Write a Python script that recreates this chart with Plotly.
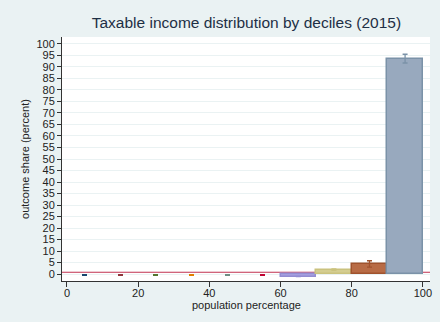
import plotly.graph_objects as go

# Data
decile_centers = [5, 15, 25, 35, 45, 55, 65, 75, 85, 95]
shares = [0.0, 0.0, 0.0, 0.0, 0.0, 0.0, -1.1, 1.9, 4.3, 93.5]
ci_low = [-0.4, -0.4, -0.4, -0.4, -0.4, -0.4, -1.1, 1.6, 3.0, 91.7]
ci_high = [-0.3, -0.3, -0.3, -0.3, -0.3, -0.3, -1.0, 2.3, 5.8, 95.5]
line_colors = ["#1a476f", "#90353b", "#55752f", "#e37e00", "#6e8e84",
               "#c10534", "#938dd2", "#cac27e", "#a0522d", "#7b92a8"]
fill_colors = ["#1a476f", "#90353b", "#55752f", "#e37e00", "#6e8e84",
               "#c10534", "#a49fe0", "#d4cd90", "#b86b45", "#98a9be"]
reference_value = 0.8
y_ticks = list(range(0, 101, 5))
x_ticks = [0, 20, 40, 60, 80, 100]

fig = go.Figure()
for i, (x, y) in enumerate(zip(decile_centers, shares)):
    show_bar = abs(y) > 0.5
    fig.add_trace(go.Bar(
        x=[x], y=[y], width=10,
        marker=dict(color=fill_colors[i] if show_bar else "rgba(0,0,0,0)",
                    line=dict(color=line_colors[i], width=1.5 if show_bar else 0)),
        error_y=dict(type="data", symmetric=False,
                     array=[ci_high[i] - y], arrayminus=[y - ci_low[i]],
                     color=line_colors[i], thickness=1.3, width=2.5),
        showlegend=False, hoverinfo="skip",
    ))

fig.add_hline(y=reference_value, line=dict(color="#c0304f", width=1.2), layer="below")

fig.add_annotation(text="population percentage", xref="paper", yref="paper",
                   x=0.5, y=-0.098, xanchor="center", yanchor="middle",
                   showarrow=False, font=dict(size=11, color="#222222"))

fig.update_layout(
    width=440, height=322,
    paper_bgcolor="#eaf2f3", plot_bgcolor="#ffffff",
    margin=dict(l=62, r=8, t=37, b=41),
    bargap=0,
    font=dict(family="Liberation Sans, Arial, sans-serif", size=11, color="#222222"),
    title=dict(text="Taxable income distribution by deciles (2015)",
               x=0.56, xanchor="center", y=0.93, yanchor="middle",
               font=dict(size=15.5, color="#1e2f45")),
    xaxis=dict(range=[-1.4, 102], tickvals=x_ticks, ticks="outside", ticklen=5,
               tickcolor="#333333", showline=True, linecolor="#333333", linewidth=1,
               showgrid=False, zeroline=False, tickfont=dict(size=11),
               ticklabelstandoff=-3),
    yaxis=dict(range=[-3.0, 103], tickvals=y_ticks, ticks="outside", ticklen=4,
               tickcolor="#333333", showline=True, linecolor="#333333", linewidth=1,
               showgrid=True, gridcolor="#eaf2f3", gridwidth=1, zeroline=False,
               tickfont=dict(size=11),
               title=dict(text="outcome share (percent)", standoff=4, font=dict(size=11))),
)

fig.write_html("out.html", config={"displayModeBar": False},
               post_script="document.body.style.margin='0';document.body.style.background='#eaf2f3';")
